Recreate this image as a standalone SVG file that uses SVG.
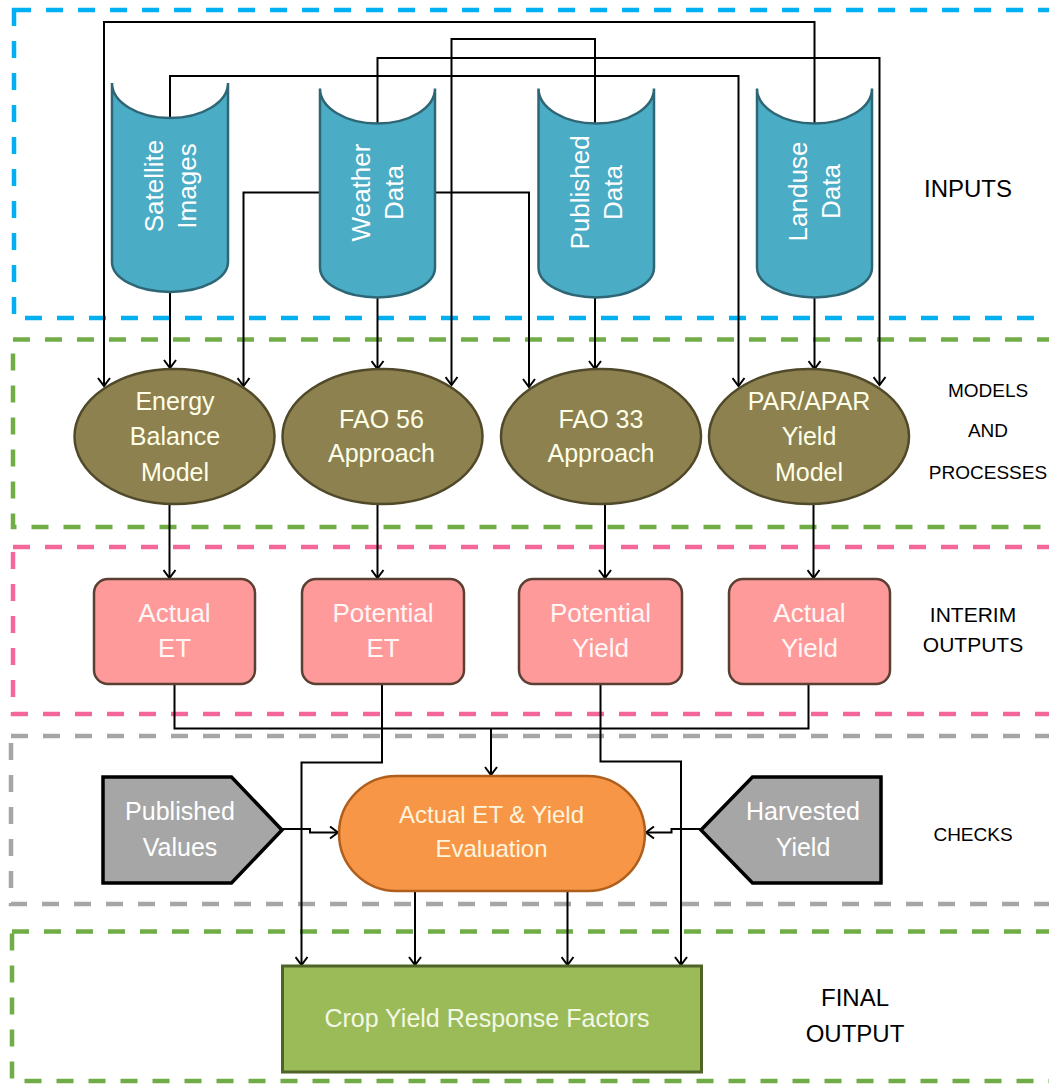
<svg xmlns="http://www.w3.org/2000/svg" width="1049" height="1084" viewBox="0 0 1049 1084">
<defs>
<marker id="arr" viewBox="-10 -7 12 14" markerWidth="12" markerHeight="14" refX="0" refY="0" orient="auto" markerUnits="userSpaceOnUse">
<path d="M-8,-6 L0,0 L-8,6" fill="none" stroke="#000" stroke-width="2"/>
</marker>
<style>
text{font-family:"Liberation Sans",Arial,sans-serif;}
.grp{fill:none;stroke-width:4.5;stroke-dasharray:17 15;}
.con{fill:none;stroke:#000;stroke-width:2;}
.arw{marker-end:url(#arr);}
.cyl{fill:#4BACC6;stroke:#2E6676;stroke-width:2.5;}
.cylt{fill:#fff;font-size:26px;text-anchor:middle;}
.ell{fill:#8D8150;stroke:#504A2A;stroke-width:2.5;}
.ellt{fill:#FFFFE8;font-size:25px;text-anchor:middle;}
.box{fill:#FF9A9A;stroke:#5A3F33;stroke-width:2.5;}
.boxt{fill:#FFF6F6;font-size:26px;text-anchor:middle;}
.pent{fill:#A6A6A6;stroke:#000;stroke-width:3.5;}
.pentt{fill:#fff;font-size:25px;text-anchor:middle;}
.lbl{fill:#000;text-anchor:middle;}
</style>
</defs>
<rect width="1049" height="1084" fill="#fff"/>
<g id="groups">
<rect class="grp" x="14" y="10" width="1060" height="308" stroke="#00B0F0"/>
<rect class="grp" x="13" y="339.5" width="1060" height="187.5" stroke="#70AD47"/>
<rect class="grp" x="13" y="547" width="1060" height="167" stroke="#F4679A"/>
<rect class="grp" x="11" y="736" width="1060" height="168" stroke="#A6A6A6"/>
<rect class="grp" x="12" y="931.5" width="1060" height="149.5" stroke="#70AD47"/>
</g>
<g id="connectors">
<path class="con arw" d="M814.5,125 V22 H104 V386"/>
<path class="con arw" d="M595,125 V39 H451.5 V385"/>
<path class="con arw" d="M377.5,125 V58 H879.5 V385"/>
<path class="con arw" d="M170,120 V76 H738.5 V386"/>
<path class="con arw" d="M320,192.5 H243.5 V386"/>
<path class="con arw" d="M435,192.5 H529 V387"/>
<path class="con arw" d="M170,292 V368"/>
<path class="con arw" d="M377.5,297 V369"/>
<path class="con arw" d="M595,297 V369"/>
<path class="con arw" d="M814.5,297 V369"/>
<path class="con arw" d="M169.5,504 V578"/>
<path class="con arw" d="M377.5,504 V578"/>
<path class="con arw" d="M605,504 V578"/>
<path class="con arw" d="M813.5,504 V578"/>
<path class="con" d="M174.5,684 V728.5 H808.5 V684"/>
<path class="con arw" d="M491,728.5 V775"/>
<path class="con arw" d="M382,684 V762.5 H301.5 V965"/>
<path class="con arw" d="M600.5,684 V761.5 H681 V965"/>
<path class="con arw" d="M282,829 H310 V832.5 H338"/>
<path class="con arw" d="M701,829 H671.5 V832.5 H646"/>
<path class="con arw" d="M415,891 V965"/>
<path class="con arw" d="M567.5,891 V965"/>
</g>
<g id="satellite">
<path class="cyl" d="M112,83 A58,35 0 0 0 228,83 L228,262 A58,30 0 0 1 112,262 Z"/>
<g transform="translate(170,186) rotate(-90)"><text class="cylt" x="0" y="-7.5">Satellite</text><text class="cylt" x="0" y="25.5">Images</text></g>
</g>
<g id="weather">
<path class="cyl" d="M320,88.5 A57.5,35 0 0 0 435,88.5 L435,267.5 A57.5,30 0 0 1 320,267.5 Z"/>
<g transform="translate(377.5,192.5) rotate(-90)"><text class="cylt" x="0" y="-7.5">Weather</text><text class="cylt" x="0" y="25.5">Data</text></g>
</g>
<g id="published">
<path class="cyl" d="M538.5,88.5 A57.75,35 0 0 0 654,88.5 L654,267.5 A57.75,30 0 0 1 538.5,267.5 Z"/>
<g transform="translate(596,192.5) rotate(-90)"><text class="cylt" x="0" y="-7.5">Published</text><text class="cylt" x="0" y="25.5">Data</text></g>
</g>
<g id="landuse">
<path class="cyl" d="M757,88.5 A57.5,35 0 0 0 872,88.5 L872,267.5 A57.5,30 0 0 1 757,267.5 Z"/>
<g transform="translate(814.5,191.5) rotate(-90)"><text class="cylt" x="0" y="-7.5">Landuse</text><text class="cylt" x="0" y="25.5">Data</text></g>
</g>
<g id="energy-balance">
<ellipse class="ell" cx="174.5" cy="436.5" rx="100" ry="67.5"/>
<text class="ellt" x="175" y="409.5">Energy</text>
<text class="ellt" x="175" y="445">Balance</text>
<text class="ellt" x="175" y="480.5">Model</text>
</g>
<g id="fao56">
<ellipse class="ell" cx="382.5" cy="436.5" rx="100" ry="67.5"/>
<text class="ellt" x="381.5" y="427.5">FAO 56</text>
<text class="ellt" x="381.5" y="462">Approach</text>
</g>
<g id="fao33">
<ellipse class="ell" cx="601" cy="436.5" rx="100" ry="67.5"/>
<text class="ellt" x="601" y="427.5">FAO 33</text>
<text class="ellt" x="601" y="462">Approach</text>
</g>
<g id="par-apar">
<ellipse class="ell" cx="809" cy="436.5" rx="100" ry="67.5"/>
<text class="ellt" x="809" y="409.5">PAR/APAR</text>
<text class="ellt" x="809" y="445">Yield</text>
<text class="ellt" x="809" y="480.5">Model</text>
</g>
<g id="actual-et">
<rect class="box" x="94" y="579" width="161" height="105" rx="14"/>
<text class="boxt" x="174.5" y="622">Actual</text>
<text class="boxt" x="174.5" y="657">ET</text>
</g>
<g id="potential-et">
<rect class="box" x="302" y="579" width="162" height="105" rx="14"/>
<text class="boxt" x="383" y="622">Potential</text>
<text class="boxt" x="383" y="657">ET</text>
</g>
<g id="potential-yield">
<rect class="box" x="519" y="579" width="163" height="105" rx="14"/>
<text class="boxt" x="600.5" y="622">Potential</text>
<text class="boxt" x="600.5" y="657">Yield</text>
</g>
<g id="actual-yield">
<rect class="box" x="729" y="579" width="161" height="105" rx="14"/>
<text class="boxt" x="809.5" y="622">Actual</text>
<text class="boxt" x="809.5" y="657">Yield</text>
</g>
<g id="published-values">
<polygon class="pent" points="103,777 231.5,777 282,830 231.5,883 103,883"/>
<text class="pentt" x="180" y="820">Published</text>
<text class="pentt" x="180" y="855.5">Values</text>
</g>
<g id="evaluation">
<rect x="339" y="776" width="306" height="115" rx="57.5" fill="#F79646" stroke="#B05E1C" stroke-width="2.5"/>
<text x="491.5" y="823" font-size="24" fill="#FFF4DE" text-anchor="middle">Actual ET &amp; Yield</text>
<text x="491.5" y="857" font-size="24" fill="#FFF4DE" text-anchor="middle">Evaluation</text>
</g>
<g id="harvested-yield">
<polygon class="pent" points="701,830 752.5,777 881,777 881,883 752.5,883"/>
<text class="pentt" x="803" y="820">Harvested</text>
<text class="pentt" x="803" y="855.5">Yield</text>
</g>
<g id="crop-yield">
<rect x="282.5" y="966" width="419" height="106" fill="#9BBB59" stroke="#4F6228" stroke-width="3"/>
<text x="487" y="1027" font-size="25" fill="#F3F8E6" text-anchor="middle">Crop Yield Response Factors</text>
</g>
<g id="labels">
<text class="lbl" x="968" y="197" font-size="24">INPUTS</text>
<text class="lbl" x="988" y="397" font-size="19">MODELS</text>
<text class="lbl" x="988" y="436.5" font-size="19">AND</text>
<text class="lbl" x="988" y="478.5" font-size="19">PROCESSES</text>
<text class="lbl" x="973" y="622" font-size="21">INTERIM</text>
<text class="lbl" x="973" y="652" font-size="21">OUTPUTS</text>
<text class="lbl" x="973" y="841" font-size="19">CHECKS</text>
<text class="lbl" x="855" y="1006" font-size="24">FINAL</text>
<text class="lbl" x="855" y="1042" font-size="24">OUTPUT</text>
</g>
</svg>
